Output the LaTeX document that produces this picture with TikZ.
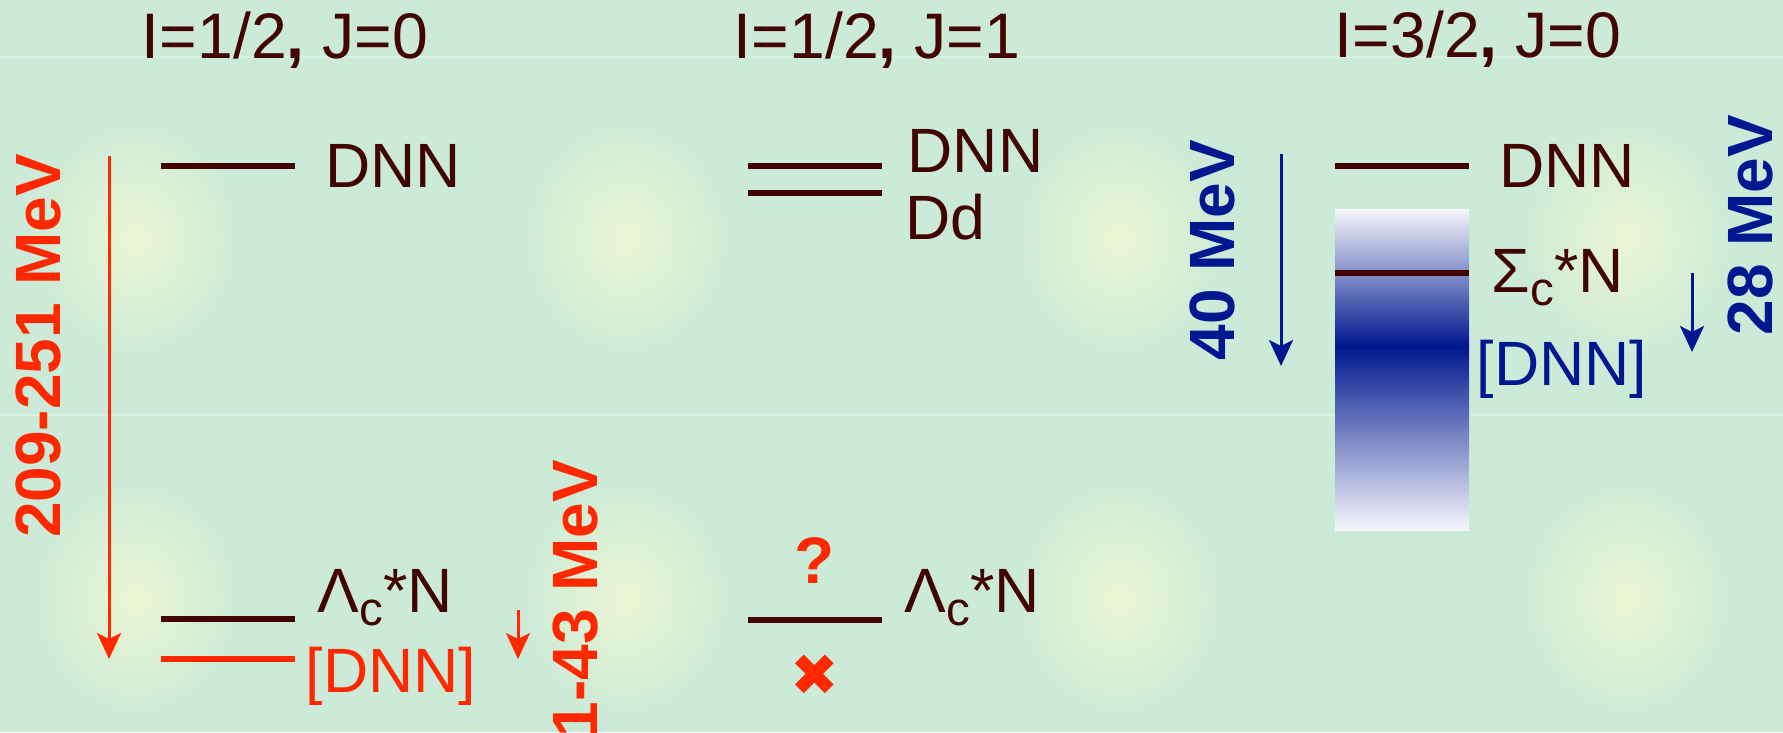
\documentclass[tikz,border=0pt]{standalone}
\usepackage{fontspec}
\setmainfont{Liberation Sans}
\newfontfamily\symfont{DejaVu Sans}
\usetikzlibrary{arrows.meta,positioning}
\definecolor{ink}{RGB}{66,4,0}
\definecolor{hot}{RGB}{255,40,0}
\definecolor{deep}{RGB}{0,24,143}
\definecolor{mint}{RGB}{203,234,215}
\definecolor{glow}{RGB}{236,246,212}
\definecolor{seam}{RGB}{216,241,226}
\definecolor{pale}{RGB}{246,246,251}
\newcommand{\subc}{\raisebox{-0.22em}{\fontsize{13.5}{14}\selectfont c}}

\begin{document}
\begin{tikzpicture}[x=0.01cm, y=0.01cm,
    lvl/.style={fill=ink, minimum width=1.33cm, minimum height=0.055cm,
                inner sep=0pt, outer sep=0pt},
    lab/.style={ink, font=\fontsize{17.8}{20}\selectfont, inner sep=0pt},
    head/.style={ink, font=\fontsize{18.3}{20}\selectfont, inner sep=0pt, anchor=base},
    mev/.style={font=\bfseries\fontsize{18.2}{20}\selectfont, rotate=90,
                anchor=east, inner sep=0pt},
    arr/.style={-{Stealth[length=0.26cm, width=0.24cm, inset=0.06cm]}, line width=0.03cm}
  ]
  \useasboundingbox (0,0) rectangle (1783,732);
  \clip (0,0) rectangle (1783,732);
  % background tiles
  \fill[mint] (0,0) rectangle (1783,732);
  \foreach \gx in {136,626,1120,1627}
    \foreach \gy in {134,494}
      \shade[inner color=glow, outer color=mint] (\gx,\gy) ellipse (1.1cm and 1.25cm);
  \draw[seam, line width=0.02cm] (0,675) -- (1783,675) (0,317) -- (1783,317);

  % I=1/2, J=0
  \node[head] (ttlA) at (285,674) {I=1/2\textbf{,} J=0};
  \node[lvl] (dnnA) at (228,566) {};
  \node[lab, right=0.3cm of dnnA] (dnnAt) {DNN};
  \node[lvl] (lamA) at (228,113) {};
  \node[lab, anchor=base west] (lamAt) at (317,120) {Λ\subc*N};
  \node[lvl, fill=hot] (botA) at (228,73) {};
  \node[lab, hot, anchor=base west] (botAt) at (305,40) {[DNN]};
  \coordinate (bigA1) at (109,576);
  \coordinate (bigA2) at (109,73);
  \draw[arr, hot] (bigA1) -- (bigA2);
  \coordinate (smA1) at (518,122);
  \coordinate (smA2) at (518,73);
  \draw[arr, hot] (smA1) -- (smA2);
  \node[mev, hot] (gapA) at (38,579) {209-251 MeV};
  \node[mev, hot] (gapB) at (576,273) {1-43 MeV};

  % I=1/2, J=1
  \node[head] (ttlB) at (877,674) {I=1/2\textbf{,} J=1};
  \node[lvl] (dnnB) at (815,566) {};
  \node[lvl] (ddB) at (815,539) {};
  \node[lab, anchor=base west] (dnnBt) at (907,560) {DNN};
  \node[lab, anchor=base west] (ddBt) at (905,493) {Dd};
  \node[lvl] (lamB) at (815,112) {};
  \node[lab, anchor=base west] (lamBt) at (904,120) {Λ\subc*N};
  \node[hot, font=\bfseries\fontsize{18.7}{20}\selectfont, inner sep=0pt] (qB) at (815,171) {?};
  \node[hot, font=\symfont\fontsize{16.5}{18}\selectfont, inner sep=0pt] (xB) at (815,57) {✖};

  % I=3/2, J=0
  \node[head] (ttlC) at (1478,675) {I=3/2\textbf{,} J=0};
  \node[lvl] (dnnC) at (1402,566) {};
  \node[lab, right=0.3cm of dnnC] (dnnCt) {DNN};
  \shade[top color=pale, bottom color=deep] (1335,386) rectangle (1469,523);
  \shade[top color=deep, bottom color=pale] (1335,202) rectangle (1469,386);
  \node[lvl] (sigC) at (1402,459) {};
  \node[lab, anchor=base west] (sigCt) at (1491,440) {Σ\subc*N};
  \node[lab, deep, anchor=base west] (botCt) at (1476,347) {[DNN]};
  \coordinate (bigC1) at (1281,578);
  \coordinate (bigC2) at (1281,366);
  \draw[arr, deep] (bigC1) -- (bigC2);
  \coordinate (smC1) at (1692,459);
  \coordinate (smC2) at (1692,380);
  \draw[arr, deep] (smC1) -- (smC2);
  \node[mev, deep] (gapC) at (1212,593) {40 MeV};
  \node[mev, deep] (gapD) at (1750,618) {28 MeV};
\end{tikzpicture}
\end{document}
